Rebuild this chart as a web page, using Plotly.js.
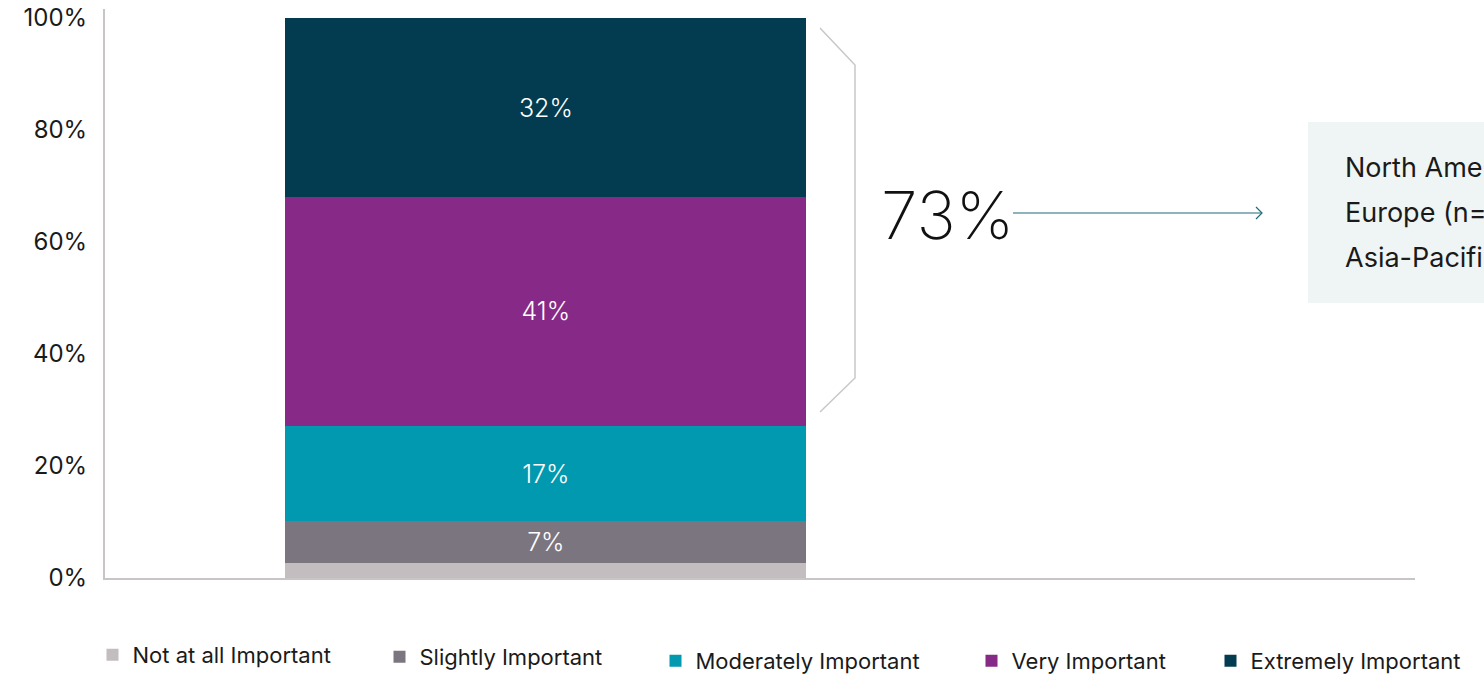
<!DOCTYPE html>
<html>
<head>
<meta charset="utf-8">
<script src="https://cdn.plot.ly/plotly-3.0.1.min.js"></script>
<style>html,body{margin:0;padding:0;background:#fff;overflow:hidden}#chart{width:1484px;height:676px}</style>
</head>
<body>
<div id="chart"></div>
<script>
var category = ['All respondents'];
var seriesNames = ['Not at all Important','Slightly Important','Moderately Important','Very Important','Extremely Important'];
var notAtAll = [2.7];
var slightly = [7.4];
var moderately = [17.1];
var very = [40.8];
var extremely = [32.0];
var combinedLabel = '73%';
var regionLines = ['North America', 'Europe (n=', 'Asia-Pacific'];
var yTicks = [0, 20, 40, 60, 80, 100];
var yTickText = yTicks.map(function(v){return v + '%';});

var colors = ['#c3bdbf','#7b7580','#0099b0','#872a87','#033c50'];
var seriesValues = [notAtAll, slightly, moderately, very, extremely];
var FONT = 'Inter, "Noto Sans", sans-serif';

var legendPix = [[92.5,655],[379.5,657],[655.5,661],[971.5,661],[1210.5,661]];
var PL=105, PR=1415, PT=9, PB=578;
function px(x){return (x-PL)/(PR-PL);}
function py(y){return (PB-y)/(PB-PT);}

var traces = seriesValues.map(function(vals,i){
  return {
    type:'bar', x:category, y:vals, name:seriesNames[i], width:1,
    marker:{color:colors[i], line:{width:0}},
    texttemplate: i===0 ? '' : '%{y:.0f}%',
    textposition: i===0 ? 'none' : 'inside',
    insidetextanchor:'middle',
    textangle:0,
    textfont:{color:'#ffffff', size:25, family:FONT, weight:300},
    hoverinfo:'skip',
    legend: i===0 ? 'legend' : 'legend'+(i+1),
    showlegend:true
  };
});

var layout = {
  width:1484, height:676,
  margin:{l:PL, r:1484-PR, t:PT, b:676-PB, pad:0, autoexpand:false},
  paper_bgcolor:'#ffffff', plot_bgcolor:'#ffffff',
  barmode:'stack',
  font:{family:FONT, color:'#1a1a1a'},
  xaxis:{type:'category', range:[-0.846,1.668], showticklabels:false, ticks:'', showgrid:false, zeroline:false,
         showline:true, linecolor:'#c9c4c5', linewidth:2, fixedrange:true},
  yaxis:{range:[0,101.6], tickmode:'array', tickvals:yTicks, ticktext:yTickText, showgrid:false, zeroline:false, ticks:'',
         showline:true, linecolor:'#c9c4c5', linewidth:2, ticklabelstandoff:11,
         tickfont:{size:24, family:FONT, color:'#1a1a1a'}, fixedrange:true},
  shapes:[
    {type:'path', xref:'paper', yref:'paper',
     path:'M'+px(820)+','+py(28)+' L'+px(855)+','+py(65)+' L'+px(855)+','+py(378)+' L'+px(820)+','+py(412),
     line:{color:'#c8c8c8', width:1.5}},
    {type:'line', xref:'paper', yref:'paper', x0:px(1013), x1:px(1262), y0:py(213), y1:py(213),
     line:{color:'#1f6b78', width:1.2}},
    {type:'path', xref:'paper', yref:'paper',
     path:'M'+px(1256)+','+py(207)+' L'+px(1262)+','+py(213)+' L'+px(1256)+','+py(219),
     line:{color:'#1f6b78', width:1.2}},
    {type:'rect', xref:'paper', yref:'paper', x0:px(1308), x1:px(1520), y0:py(303), y1:py(122),
     fillcolor:'#eff5f5', line:{width:0}, layer:'below'}
  ],
  annotations:[
    {xref:'paper', yref:'paper', x:px(947.5), y:py(215), text:combinedLabel, showarrow:false,
     xanchor:'center', yanchor:'middle', font:{size:66, family:FONT, color:'#111111', weight:200}}
  ].concat(regionLines.map(function(t,i){
    return {xref:'paper', yref:'paper', x:px(1343), y:py(167+45*i), text:t, showarrow:false,
      xanchor:'left', yanchor:'middle', align:'left', font:{size:27, family:FONT, color:'#1a1a1a'}};
  })),
  hovermode:false
};
seriesNames.forEach(function(n,i){
  var key = i===0 ? 'legend' : 'legend'+(i+1);
  layout[key] = {orientation:'h', x:px(legendPix[i][0]), y:py(legendPix[i][1]), xanchor:'left', yanchor:'middle',
    bgcolor:'rgba(0,0,0,0)', borderwidth:0, font:{size:22, family:FONT, color:'#1a1a1a'}, itemclick:false, itemdoubleclick:false};
});

Plotly.newPlot('chart', traces, layout, {displayModeBar:false, staticPlot:true});
</script>
</body>
</html>
